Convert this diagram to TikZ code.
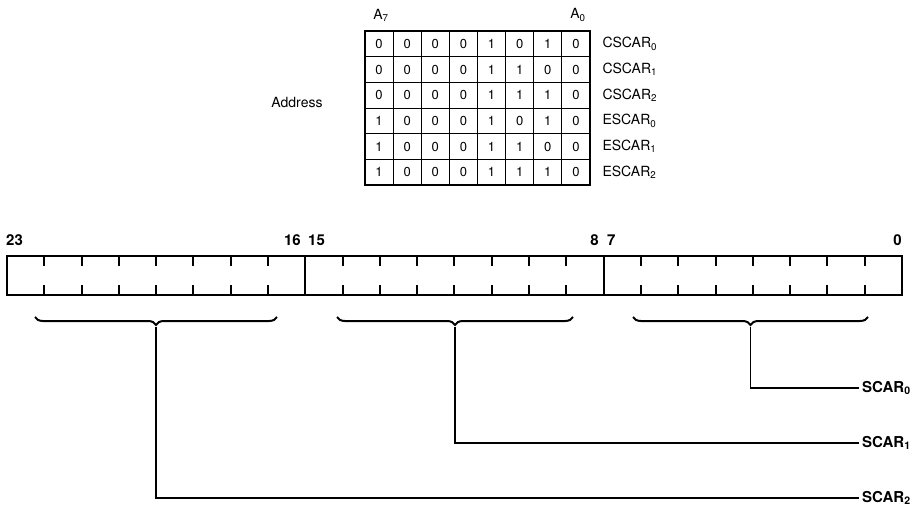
\documentclass[tikz,border=0pt]{standalone}
\usepackage{fontspec}
\setmainfont{TeX Gyre Heros}
\usetikzlibrary{decorations.pathreplacing,calc,positioning}

\tikzset{
  plaintxt/.style={font=\fontsize{14}{16}\selectfont},
  celltxt/.style={font=\fontsize{13}{15}\selectfont},
  bittxt/.style={font=\bfseries\fontsize{15}{17}\selectfont},
  scartxt/.style={font=\bfseries\fontsize{15}{17}\selectfont, anchor=west, inner sep=3pt},
  regbrace/.style={decorate, decoration={brace, mirror, amplitude=8pt}, line width=2pt},
  leadline/.style={line width=1.9pt},
}

\begin{document}
\begin{tikzpicture}[x=1pt,y=-1pt]
    \useasboundingbox (0,0) rectangle (924,508);

    % Address table: 8 columns, 6 rows
    \foreach \c in {1,...,7}
      \draw[line width=1pt] ({365+\c*28.125},31) -- ({365+\c*28.125},185);
    \foreach \r in {1,...,5}
      \draw[line width=1pt] (365,{31+\r*25.667}) -- (590,{31+\r*25.667});
    \draw[line width=1.8pt] (365,31) rectangle (590,185);
    \node[plaintxt] (a7) at (381,15) {A\textsubscript{7}};
    \node[plaintxt] (a0) at (578,15) {A\textsubscript{0}};
    \node[plaintxt] (addr) at (297,103) {Address};

    \foreach \bits/\name [count=\r] in {
        {0,0,0,0,1,0,1,0}/CSCAR\textsubscript{0},
        {0,0,0,0,1,1,0,0}/CSCAR\textsubscript{1},
        {0,0,0,0,1,1,1,0}/CSCAR\textsubscript{2},
        {1,0,0,0,1,0,1,0}/ESCAR\textsubscript{0},
        {1,0,0,0,1,1,0,0}/ESCAR\textsubscript{1},
        {1,0,0,0,1,1,1,0}/ESCAR\textsubscript{2}} {
      \foreach \b [count=\c] in \bits
        \node[celltxt] (cell-\r-\c) at ({365+(\c-0.5)*28.125},{31+(\r-0.5)*25.667}) {\b};
      \node[plaintxt, anchor=west] (row\r) at (599,{31+(\r-0.5)*25.667}) {\name};
    }

    % 24-bit register
    \draw[line width=2.8pt] (7,256) rectangle (902,295);
    \foreach \s in {1,2}
      \draw[line width=2.2pt] ({7+\s*298.33},256) -- ({7+\s*298.33},295);
    \foreach \k in {1,...,23} {
      \ifnum\k=8\relax\else\ifnum\k=16\relax\else
        \draw[line width=2pt] ({7+\k*37.29},256) -- ++(0,10);
        \draw[line width=2pt] ({7+\k*37.29},295) -- ++(0,-10);
      \fi\fi
    }

    % bit numbers
    \node[bittxt, anchor=west, inner sep=0pt] (b23) at (6,240) {23};
    \node[bittxt, anchor=east, inner sep=0pt] (b16) at (301,240) {16};
    \node[bittxt, anchor=west, inner sep=0pt] (b15) at (308,240) {15};
    \node[bittxt, anchor=east, inner sep=0pt] (b8) at (599,240) {8};
    \node[bittxt, anchor=west, inner sep=0pt] (b7) at (607,240) {7};
    \node[bittxt, anchor=east, inner sep=0pt] (b0) at (902,240) {0};

    % braces under each byte
    \draw[regbrace] (35,317) -- (277,317);
    \draw[regbrace] (337,317) -- (573,317);
    \draw[regbrace] (633,317) -- (868,317);
    \coordinate (tip2) at (156,327);
    \coordinate (tip1) at (455,327);
    \coordinate (tip0) at (750.5,327);

    % outputs
    \node[scartxt] (scar0) at (859,388) {SCAR\textsubscript{0}};
    \node[scartxt] (scar1) at (859,443) {SCAR\textsubscript{1}};
    \node[scartxt] (scar2) at (859,498) {SCAR\textsubscript{2}};
    \draw[leadline] (tip0) |- (scar0.west);
    \draw[leadline] (tip1) |- (scar1.west);
    \draw[leadline] (tip2) |- (scar2.west);
\end{tikzpicture}
\end{document}
